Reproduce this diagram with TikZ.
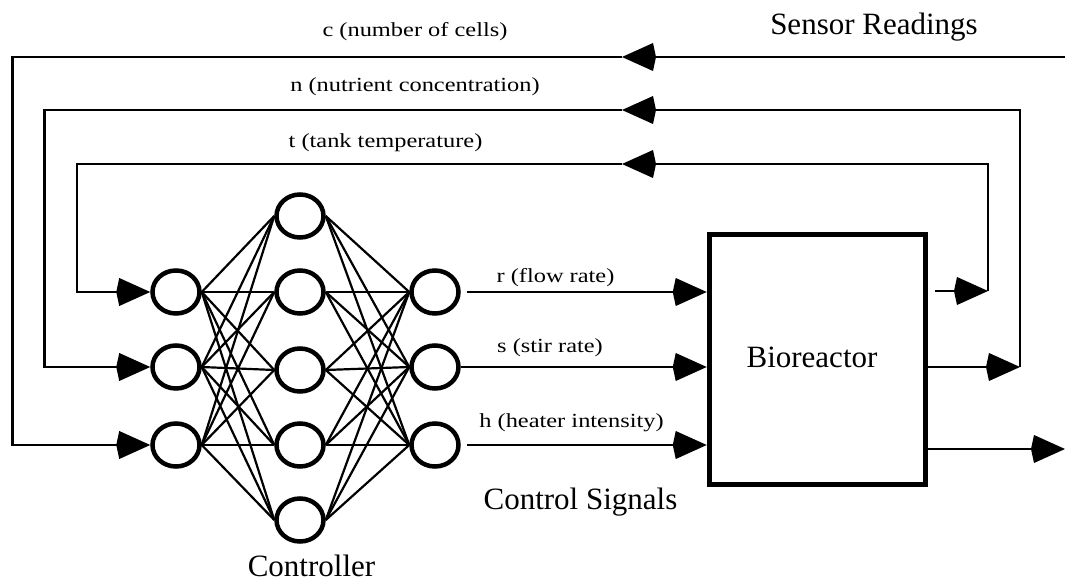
\documentclass[tikz,border=0pt]{standalone}
\usepackage{fontspec}
\setmainfont{Liberation Serif}
\newfontfamily\lblfont[FakeStretch=1.22]{Liberation Serif}
\usetikzlibrary{arrows.meta,shapes.geometric}

\begin{document}
\begin{tikzpicture}[x=1pt,y=-1pt,
  >={Kite[length=34pt,width=28pt,inset=3pt]},
  neuron/.style={draw, ellipse, line width=4.5pt, minimum width=47pt,
    minimum height=43pt, inner sep=0pt},
  wire/.style={line width=2.2pt},
  fb/.style={line width=2.4pt},
  small/.style={font=\lblfont\fontsize{20}{24}\selectfont, anchor=base, inner sep=0pt},
  big/.style={font=\fontsize{31}{36}\selectfont, anchor=base, inner sep=0pt}]
\useasboundingbox (0,0) rectangle (1065,583);

% controller network: inputs, hidden layer, outputs
\node[neuron] (i1) at (176,292) {};
\node[neuron] (i2) at (176,367) {};
\node[neuron] (i3) at (176,445) {};
\node[neuron] (h1) at (300,216) {};
\node[neuron] (h2) at (300,292) {};
\node[neuron] (h3) at (300,370) {};
\node[neuron] (h4) at (300,445) {};
\node[neuron] (h5) at (300,520) {};
\node[neuron] (o1) at (435,292) {};
\node[neuron] (o2) at (435,367) {};
\node[neuron] (o3) at (435,445) {};

\foreach \i in {1,2,3}
  \foreach \h in {1,...,5}
    \draw[wire] (i\i.east) -- (h\h.west);
\foreach \h in {1,...,5}
  \foreach \o in {1,2,3}
    \draw[wire] (h\h.east) -- (o\o.west);

% plant
\node[draw, line width=5.5pt, minimum width=216pt, minimum height=250pt,
  inner sep=0pt] (bio) at (817.5,359.5) {};

% control signals into the bioreactor
\draw[fb,->,shorten <=6pt] (o1.east) -- (o1.east -| bio.west);
\draw[fb,->] (o2.east) -- (o2.east -| bio.west);
\draw[fb,->,shorten <=6pt] (o3.east) -- (o3.east -| bio.west);

% sensor feedback loops
\coordinate (cR) at (1065,57);
\coordinate (cA) at (622,57);
\coordinate (cL) at (12.5,57);
\coordinate (nOut) at (1020,367);
\coordinate (nTop) at (1020,110);
\coordinate (nA) at (622,110);
\coordinate (nL) at (44.5,110);
\coordinate (tS) at (935,291);
\coordinate (tOut) at (988,291);
\coordinate (tTop) at (988,164);
\coordinate (tA) at (622,164);
\coordinate (tL) at (77,164);
\coordinate (hOut) at (1065,449);

\draw[fb,->] (cR) -- (cA);
\draw[fb,->] (cA) -- (cL) |- (i3.west);

\draw[fb,->] (bio.east |- nOut) -- (nOut);
\draw[fb,->] (nOut) -- (nTop) -- (nA);
\draw[fb,->] (nA) -- (nL) |- (i2.west);

\draw[fb,->] (tS) -- (tOut);
\draw[fb,->] (tOut) -- (tTop) -- (tA);
\draw[fb,->] (tA) -- (tL) |- (i1.west);

\draw[fb,->] (bio.east |- hOut) -- (hOut);

% labels
\node[small] (lc) at (415,37) {c (number of cells)};
\node[small] (ln) at (415,92) {n (nutrient concentration)};
\node[small] (lt) at (385.5,147) {t (tank temperature)};
\node[small] (lr) at (555.5,282) {r (flow rate)};
\node[small] (ls) at (550,352) {s (stir rate)};
\node[small] (lh) at (571.5,427) {h (heater intensity)};
\node[big] (lcs) at (580.5,509) {Control Signals};
\node[big] (lbio) at (812,367) {Bioreactor};
\node[big] (lsr) at (874,35) {Sensor Readings};
\node[big] (lctl) at (311.5,576) {Controller};
\end{tikzpicture}
\end{document}
